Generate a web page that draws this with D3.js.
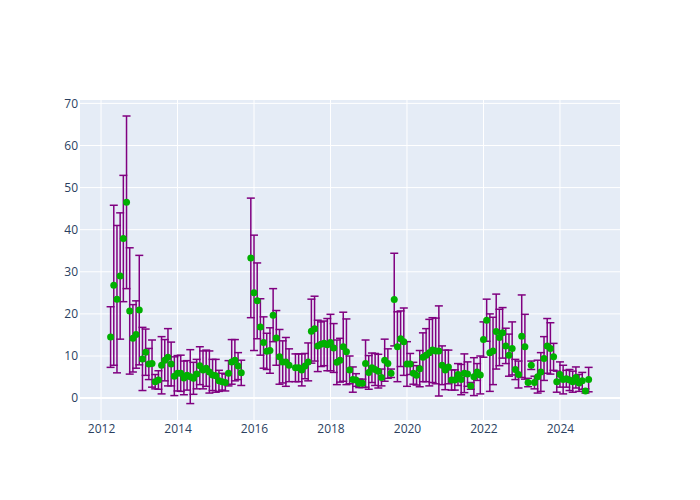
<!DOCTYPE html>
<html>
<head>
<meta charset="utf-8">
<script src="https://cdn.jsdelivr.net/npm/d3@7"></script>
<style>
  body { margin: 0; background: #fff; }
  svg { display: block; }
  text { font-family: "Open Sans", verdana, arial, sans-serif; }
</style>
</head>
<body>
<svg id="chart" width="700" height="500"></svg>
<script>
// ---- data (monthly) ----
const dates = [
  "2012-04","2012-05","2012-06","2012-07","2012-08","2012-09","2012-10","2012-11","2012-12",
  "2013-01","2013-02","2013-03","2013-04","2013-05","2013-06","2013-07","2013-08","2013-09","2013-10","2013-11","2013-12",
  "2014-01","2014-02","2014-03","2014-04","2014-05","2014-06","2014-07","2014-08","2014-09","2014-10","2014-11","2014-12",
  "2015-01","2015-02","2015-03","2015-04","2015-05","2015-06","2015-07","2015-08","2015-09","2015-12",
  "2016-01","2016-02","2016-03","2016-04","2016-05","2016-06","2016-07","2016-08","2016-09","2016-10","2016-11","2016-12",
  "2017-02","2017-03","2017-04","2017-05","2017-06","2017-07","2017-08","2017-09","2017-10","2017-11","2017-12",
  "2018-01","2018-02","2018-03","2018-04","2018-05","2018-06","2018-07","2018-08","2018-09","2018-10","2018-11","2018-12",
  "2019-01","2019-02","2019-03","2019-04","2019-05","2019-06","2019-07","2019-08","2019-09","2019-10","2019-11","2019-12",
  "2020-01","2020-02","2020-03","2020-04","2020-05","2020-06","2020-07","2020-08","2020-09","2020-10","2020-11","2020-12",
  "2021-01","2021-02","2021-03","2021-04","2021-05","2021-06","2021-07","2021-08","2021-09","2021-10","2021-11","2021-12",
  "2022-01","2022-02","2022-03","2022-04","2022-05","2022-06","2022-07","2022-08","2022-09","2022-10","2022-11","2022-12",
  "2023-01","2023-02","2023-03","2023-04","2023-05","2023-06","2023-07","2023-08","2023-09","2023-10","2023-11","2023-12",
  "2024-01","2024-02","2024-03","2024-04","2024-05","2024-06","2024-07","2024-08","2024-09","2024-10"
];
const values = [
  14.5, 26.8, 23.5, 29, 37.9, 46.5, 20.7, 14.2, 15.1,
  20.9, 9.3, 10.9, 8.1, 8.2, 3.9, 4.3, 7.8, 9, 9.7, 8.1, 5.2,
  5.9, 5.9, 4.8, 5.4, 5.1, 4.7, 5.7, 7.7, 6.7, 7.1, 6.2, 5.5,
  5.3, 4.1, 3.9, 3.7, 5.9, 8.6, 9, 7.6, 6.0, 33.3,
  25, 23.1, 16.9, 13.2, 11.1, 11.3, 19.7, 14.3, 9.8, 8.6, 8.6, 7.8,
  7.2, 7.2, 6.7, 7.6, 8.6, 15.9, 16.5, 12.4, 12.8, 13, 12.7,
  13.2, 11.9, 8.5, 9, 12.2, 11, 6.7, 4.4, 4.3, 3.5, 3.5, 8.2,
  6.1, 7.2, 6.8, 6.4, 4.9, 9, 8.2, 5.9, 23.4, 12.2, 14.1, 13.4,
  8.1, 8.1, 5.9, 5.4, 7, 9.7, 10.2, 10.8, 11.4, 11.2, 11.2, 7.8,
  6.7, 7.4, 4.3, 4.3, 5.6, 4.4, 5.9, 5.7, 2.9, 5.1, 6.2, 5.5,
  13.9, 18.5, 10.8, 11.2, 15.8, 14.4, 15.5, 12.4, 10.2, 11.8, 6.8, 5.6,
  14.7, 12.2, 3.7, 7.8, 3.7, 5.1, 6.2, 9.4, 12.4, 11.8, 9.8, 3.9,
  5.6, 4.4, 4.6, 4.3, 3.9, 4.9, 3.6, 4.1, 1.7, 4.4
];
const errors = [
  7.2, 19, 17.5, 15, 15, 20.5, 15, 8, 8,
  13, 7.5, 5.5, 3.7, 5.6, 1.7, 2.2, 6.8, 4.9, 6.8, 5.2, 4.6,
  4.2, 4.3, 4, 3.5, 6.4, 3.8, 3.5, 4.5, 4.5, 4.3, 5, 3.7,
  3.9, 2.5, 2, 2, 3, 5.3, 4.9, 3.2, 3, 14.2,
  13.7, 9, 6.7, 6.1, 4.3, 5.4, 6.3, 6.5, 6.5, 5, 5.8, 3.9,
  3.3, 3.3, 3.8, 3, 4.5, 7.6, 7.7, 6.1, 5.3, 5.3, 6.2,
  6.7, 5.8, 5.3, 5.2, 8.2, 7.8, 3.3, 3, 1.5, 1, 1, 5.6,
  4, 3.5, 3.8, 4, 2, 5, 3.5, 1, 11, 8.3, 6.6, 8,
  5.3, 2.5, 2.6, 2.3, 4.3, 5.8, 6.3, 7.9, 7.7, 7.8, 10.7, 4.6,
  4.7, 4, 2.4, 2.4, 2.6, 3.6, 4.6, 2.9, 0.8, 4.5, 2, 4.5,
  4.2, 5, 9.2, 8, 8.9, 6.7, 6, 4.2, 5, 6.3, 2.4, 3.2,
  9.8, 7.7, 1, 1, 1.5, 3.9, 4.6, 5.2, 6.5, 6.1, 3.2, 2.5,
  3, 3.4, 2, 2.5, 2.5, 2.5, 2, 2, 0.5, 2.9
];
const xTicks = [2012, 2014, 2016, 2018, 2020, 2022, 2024];
const yTicks = [0, 10, 20, 30, 40, 50, 60, 70];

// ---- layout ----
const W = 700, H = 500;
const m = { l: 80, r: 80, t: 100, b: 80 };
const pw = W - m.l - m.r, ph = H - m.t - m.b;

const toYear = s => { const [yy, mo] = s.split("-").map(Number); return yy + (mo - 1) / 12; };
const data = dates.map((d, i) => ({ t: toYear(d), v: values[i], e: errors[i] }));

const x = d3.scaleLinear().domain([2011.45, 2025.57]).range([m.l, m.l + pw]);
const y = d3.scaleLinear().domain([-5.2, 70.8]).range([m.t + ph, m.t]);

const svg = d3.select("#chart");
svg.append("rect").attr("x", m.l).attr("y", m.t).attr("width", pw).attr("height", ph).attr("fill", "#E5ECF6");

// gridlines
svg.append("g").selectAll("line").data(xTicks).join("line")
  .attr("x1", d => x(d)).attr("x2", d => x(d)).attr("y1", m.t).attr("y2", m.t + ph)
  .attr("stroke", "#fff").attr("stroke-width", 1);
svg.append("g").selectAll("line").data(yTicks).join("line")
  .attr("x1", m.l).attr("x2", m.l + pw).attr("y1", d => y(d)).attr("y2", d => y(d))
  .attr("stroke", "#fff").attr("stroke-width", d => d === 0 ? 2 : 1);

// axes (labels only)
const xAxis = d3.axisBottom(x).tickValues(xTicks).tickFormat(d3.format("d")).tickSize(0).tickPadding(0);
const gx = svg.append("g").attr("transform", `translate(0,${m.t + ph})`).call(xAxis);
gx.select(".domain").remove();
gx.selectAll("text").attr("fill", "#2a3f5f").attr("font-size", 12).attr("dy", "0.71em").attr("y", 4.5);

const yAxis = d3.axisLeft(y).tickValues(yTicks).tickFormat(d3.format("d")).tickSize(0).tickPadding(2);
const gy = svg.append("g").attr("transform", `translate(${m.l},0)`).call(yAxis);
gy.select(".domain").remove();
gy.selectAll("text").attr("fill", "#2a3f5f").attr("font-size", 12);

// error bars
const cap = 4;
const eb = svg.append("g").attr("stroke", "#800080").attr("stroke-width", 1.5).attr("fill", "none");
const g = eb.selectAll("g").data(data).join("g");
g.append("line")
  .attr("x1", d => x(d.t)).attr("x2", d => x(d.t))
  .attr("y1", d => y(d.v + d.e)).attr("y2", d => y(d.v - d.e));
g.append("line")
  .attr("x1", d => x(d.t) - cap).attr("x2", d => x(d.t) + cap)
  .attr("y1", d => y(d.v + d.e)).attr("y2", d => y(d.v + d.e));
g.append("line")
  .attr("x1", d => x(d.t) - cap).attr("x2", d => x(d.t) + cap)
  .attr("y1", d => y(d.v - d.e)).attr("y2", d => y(d.v - d.e));

// markers
svg.append("g").selectAll("circle").data(data).join("circle")
  .attr("cx", d => x(d.t)).attr("cy", d => y(d.v)).attr("r", 3.5)
  .attr("fill", "#00b000");
</script>
</body>
</html>
